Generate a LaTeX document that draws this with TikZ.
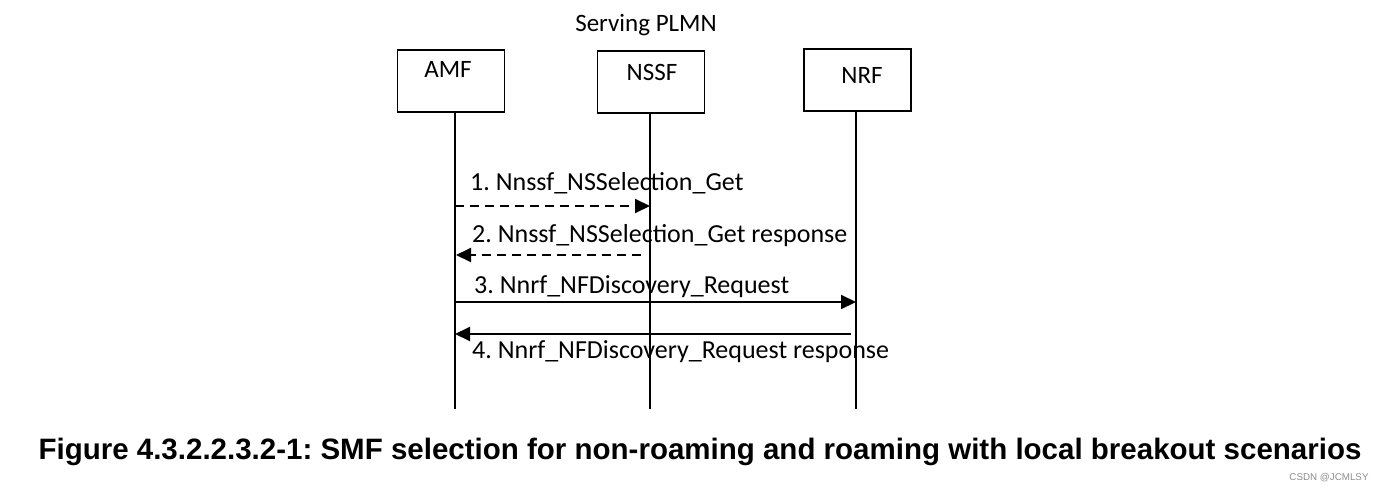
\documentclass[tikz,border=0pt]{standalone}
\usepackage{fontspec}
\setmainfont{Carlito}
\newfontfamily\capfont{Liberation Sans}
\usepackage{tikz}
\usetikzlibrary{arrows.meta}
\usetikzlibrary{positioning}
\frenchspacing

\begin{document}
\begin{tikzpicture}[x=1pt,y=-1pt,
        nfbox/.style={draw=black,line width=1.4pt,minimum width=107pt,minimum height=62pt,inner sep=0pt},
        nflabel/.style={font=\fontsize{25}{30}\selectfont},
        lifeline/.style={draw=black,line width=1.2pt},
        msg/.style={draw=black,line width=2pt,-{Triangle[length=15pt,width=14pt]}},
        msgtext/.style={anchor=west,inner sep=0pt,font=\fontsize{26}{31}\selectfont}]
        \useasboundingbox (0,0) rectangle (1384,493);
        \node[nflabel] (plmn) at (646,25) {Serving PLMN};
        \begin{scope}[every node/.style={nfbox}]
        \node (amf) at (451,81) {};
        \node (nssf) at (651,82) {};
        \node (nrf) at (857.5,80) {};
        \end{scope}
        \node[nflabel] (amftext) at (448,69) {AMF};
        \node[nflabel] (nssftext) at (652,72) {NSSF};
        \node[nflabel] (nrftext) at (862,75) {NRF};
        % lifelines
        \coordinate (amfend) at (455,409);
        \coordinate (nssfend) at (650,409);
        \coordinate (nrfend) at (856,409);
        \draw[lifeline] (amfend |- amf.south) -- (amfend);
        \draw[lifeline] (nssfend |- nssf.south) -- (nssfend);
        \draw[lifeline] (nrfend |- nrf.south) -- (nrfend);
        % messages
        \coordinate (m1a) at (455,206);
        \coordinate (m1b) at (650,206);
        \coordinate (m2a) at (641,255);
        \coordinate (m2b) at (456,255);
        \coordinate (m3a) at (455,302);
        \coordinate (m3b) at (856,302);
        \coordinate (m4a) at (851,334);
        \coordinate (m4b) at (455,334);
        \begin{scope}[every edge/.style={msg}]
        \path (m1a) edge[dash pattern=on 9pt off 6pt] (m1b);
        \path (m2a) edge[dash pattern=on 9pt off 6pt] (m2b);
        \path (m3a) edge (m3b);
        \path (m4a) edge (m4b);
        \end{scope}
        \node[msgtext] (l1) at (470,183) {1. Nnssf\_NSSelection\_Get};
        \node[msgtext] (l2) at (472,236) {2. Nnssf\_NSSelection\_Get response};
        \node[msgtext] (l3) at (474,287) {3. Nnrf\_NFDiscovery\_Request};
        \node[msgtext] (l4) at (472,352) {4. Nnrf\_NFDiscovery\_Request response};
        % caption
        \node[font=\capfont\bfseries\fontsize{29.5}{35}\selectfont] (cap) at (700,452)
          {Figure 4.3.2.2.3.2-1: SMF selection for non-roaming and roaming with local breakout scenarios};
        \node[font=\capfont\fontsize{9.8}{12}\selectfont,text=black!45] (mark) at (1329,478) {CSDN @JCMLSY};
\end{tikzpicture}
\end{document}
